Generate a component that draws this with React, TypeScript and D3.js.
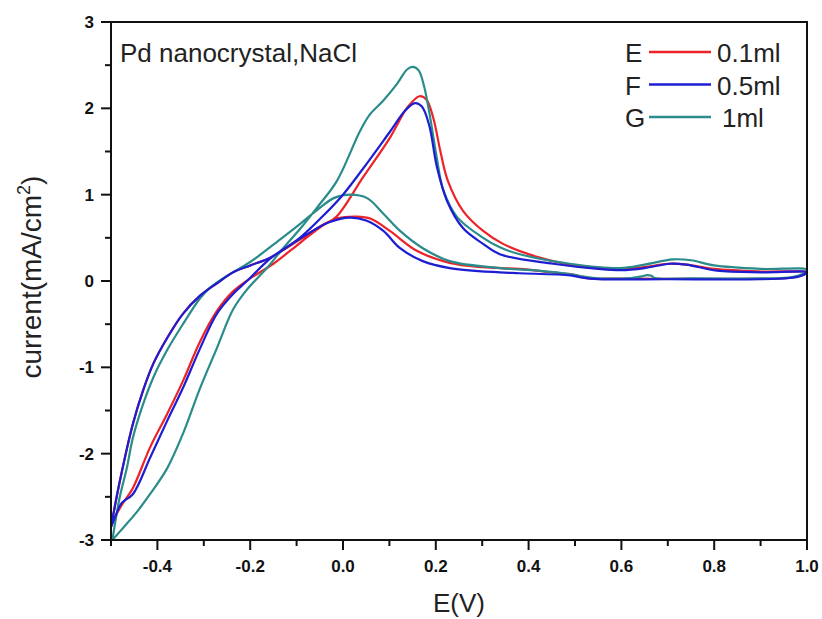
import React from 'react';
import * as d3 from 'd3';

const W = 822;
const H = 619;
// plot frame in pixels
const left = 111, right = 807, top = 22, bottom = 540;

// legend / series meta
const seriesKeys = ['E', 'F', 'G'];
const seriesLabels = ['0.1ml', '0.5ml', '1ml'];
const seriesColors = ['#ec2328', '#1d1dd2', '#2a8c8a'];

// axis ticks
const xMajorTicks = [-0.4, -0.2, 0.0, 0.2, 0.4, 0.6, 0.8, 1.0];
const xMinorTicks = [-0.5, -0.3, -0.1, 0.1, 0.3, 0.5, 0.7, 0.9];
const yMajorTicks = [-3, -2, -1, 0, 1, 2, 3];
const yMinorTicks = [-2.5, -1.5, -0.5, 0.5, 1.5, 2.5];

// E : 0.1ml  (E in V, current in mA/cm2)
const redForward: [number, number][] = [
  [-0.5, -2.85], [-0.488, -2.7], [-0.475, -2.58], [-0.453, -2.4], [-0.416, -1.93],
  [-0.379, -1.54], [-0.345, -1.16], [-0.308, -0.7], [-0.272, -0.35], [-0.237, -0.12],
  [-0.2, 0.03], [-0.15, 0.2], [-0.093, 0.44], [-0.045, 0.64], [-0.015, 0.74],
  [0.043, 1.2], [0.1, 1.65], [0.14, 2.02], [0.165, 2.14], [0.18, 2.1],
  [0.195, 1.88], [0.21, 1.5], [0.226, 1.16], [0.259, 0.81], [0.302, 0.58], [0.345, 0.43],
  [0.418, 0.28], [0.489, 0.19], [0.55, 0.155], [0.6, 0.14], [0.65, 0.16],
  [0.7, 0.2], [0.74, 0.19], [0.8, 0.14], [0.9, 0.11], [1.0, 0.1],
];
const redBackward: [number, number][] = [
  [1.0, 0.1], [0.985, 0.06], [0.96, 0.035], [0.9, 0.025], [0.75, 0.025],
  [0.6, 0.028], [0.53, 0.03], [0.515, 0.05], [0.495, 0.075], [0.45, 0.1],
  [0.38, 0.14], [0.3, 0.16], [0.23, 0.21], [0.159, 0.35], [0.101, 0.58],
  [0.06, 0.72], [0.03, 0.745], [-0.015, 0.72], [-0.05, 0.63], [-0.093, 0.48],
  [-0.157, 0.27], [-0.2, 0.18], [-0.237, 0.1], [-0.27, -0.02], [-0.308, -0.17],
  [-0.345, -0.38], [-0.379, -0.66], [-0.409, -0.96], [-0.431, -1.27],
  [-0.453, -1.66], [-0.481, -2.32], [-0.5, -2.85],
];

// F : 0.5ml
const blueForward: [number, number][] = [
  [-0.5, -2.85], [-0.49, -2.72], [-0.477, -2.57], [-0.453, -2.47], [-0.416, -2.05],
  [-0.379, -1.62], [-0.345, -1.24], [-0.308, -0.78], [-0.272, -0.38], [-0.237, -0.15],
  [-0.207, 0.0], [-0.157, 0.26], [-0.093, 0.5], [-0.04, 0.77], [0.0, 1.0],
  [0.043, 1.3], [0.1, 1.72], [0.135, 1.98], [0.155, 2.06], [0.17, 2.02],
  [0.186, 1.8], [0.202, 1.33], [0.224, 0.93], [0.259, 0.61], [0.302, 0.43],
  [0.338, 0.31], [0.453, 0.2], [0.55, 0.14], [0.6, 0.125], [0.65, 0.15],
  [0.705, 0.2], [0.74, 0.19], [0.806, 0.12], [0.9, 0.1], [1.0, 0.1],
];
const blueBackward: [number, number][] = [
  [1.0, 0.1], [0.985, 0.055], [0.963, 0.035], [0.9, 0.02], [0.7, 0.02],
  [0.55, 0.022], [0.515, 0.04], [0.49, 0.065], [0.38, 0.09], [0.338, 0.1],
  [0.23, 0.15], [0.172, 0.23], [0.123, 0.38], [0.087, 0.58], [0.05, 0.7],
  [0.015, 0.735], [-0.03, 0.68], [-0.093, 0.49], [-0.157, 0.27], [-0.2, 0.18],
  [-0.237, 0.1], [-0.27, -0.02], [-0.308, -0.17], [-0.345, -0.38], [-0.379, -0.66],
  [-0.409, -0.96], [-0.431, -1.27], [-0.453, -1.66], [-0.481, -2.32], [-0.5, -2.85],
];

// G : 1ml
const tealForward: [number, number][] = [
  [-0.497, -3.0], [-0.474, -2.86], [-0.445, -2.68], [-0.416, -2.47], [-0.379, -2.17],
  [-0.345, -1.77], [-0.308, -1.24], [-0.272, -0.78], [-0.237, -0.33], [-0.207, -0.1],
  [-0.164, 0.15], [-0.129, 0.38], [-0.09, 0.62], [-0.056, 0.85], [-0.013, 1.16],
  [0.037, 1.74], [0.058, 1.93], [0.087, 2.09], [0.116, 2.28], [0.138, 2.45],
  [0.15, 2.48], [0.163, 2.44], [0.175, 2.25], [0.188, 1.89], [0.202, 1.43],
  [0.216, 1.06], [0.246, 0.74], [0.302, 0.5], [0.338, 0.39], [0.381, 0.31],
  [0.489, 0.2], [0.597, 0.15], [0.65, 0.19], [0.711, 0.25], [0.75, 0.24],
  [0.8, 0.18], [0.9, 0.14], [1.0, 0.13],
];
const tealBackward: [number, number][] = [
  [1.0, 0.13], [0.985, 0.07], [0.96, 0.04], [0.9, 0.03], [0.75, 0.03],
  [0.672, 0.035], [0.665, 0.06], [0.655, 0.068], [0.645, 0.055], [0.62, 0.035],
  [0.55, 0.032], [0.52, 0.05], [0.489, 0.08], [0.42, 0.12], [0.338, 0.15],
  [0.23, 0.23], [0.172, 0.38], [0.123, 0.58], [0.087, 0.78], [0.052, 0.96],
  [0.015, 1.0], [-0.02, 0.96], [-0.056, 0.82], [-0.093, 0.66], [-0.136, 0.48],
  [-0.2, 0.22], [-0.25, 0.06], [-0.287, -0.08], [-0.308, -0.2], [-0.345, -0.5],
  [-0.379, -0.8], [-0.409, -1.12], [-0.431, -1.43], [-0.453, -1.82], [-0.466, -2.17],
  [-0.481, -2.5], [-0.497, -3.0],
];

const loops = [
  redForward.concat(redBackward.slice(1)),
  blueForward.concat(blueBackward.slice(1)),
  tealForward.concat(tealBackward.slice(1)),
];
const drawOrder = [0, 2, 1];

const font = '"Liberation Sans", Arial, Helvetica, sans-serif';

export default function App() {
  const x = d3.scaleLinear().domain([-0.5, 1.0]).range([left, right]);
  const y = d3.scaleLinear().domain([-3, 3]).range([bottom, top]);

  const line = d3
    .line<[number, number]>()
    .x((d) => x(d[0]))
    .y((d) => y(d[1]))
    .curve(d3.curveCatmullRom.alpha(0.5));

  return (
    <svg
      width={W}
      height={H}
      style={{ position: 'absolute', left: 0, top: 0, background: '#fff' }}
      fontFamily={font}
    >
      <defs>
        <clipPath id="plotClip">
          <rect x={left} y={top} width={right - left} height={bottom - top} />
        </clipPath>
      </defs>

      {/* curves */}
      <g clipPath="url(#plotClip)" fill="none" strokeWidth={2.2} strokeLinejoin="round">
        {drawOrder.map((i) => (
          <path key={i} d={line(loops[i]) || ''} stroke={seriesColors[i]} />
        ))}
      </g>

      {/* frame */}
      <rect x={left} y={top} width={right - left} height={bottom - top} fill="none" stroke="#111" strokeWidth={2} />

      {/* ticks */}
      <g stroke="#111" strokeWidth={2}>
        {xMajorTicks.map((t) => (
          <line key={'xM' + t} x1={x(t)} x2={x(t)} y1={bottom} y2={bottom + 10} />
        ))}
        {xMinorTicks.map((t) => (
          <line key={'xm' + t} x1={x(t)} x2={x(t)} y1={bottom} y2={bottom + 6} />
        ))}
        {yMajorTicks.map((t) => (
          <line key={'yM' + t} x1={left - 10} x2={left} y1={y(t)} y2={y(t)} />
        ))}
        {yMinorTicks.map((t) => (
          <line key={'ym' + t} x1={left - 6} x2={left} y1={y(t)} y2={y(t)} />
        ))}
      </g>
      <g fontSize={17} fontWeight="bold" fill="#111">
        {xMajorTicks.map((t) => (
          <text key={'xl' + t} x={x(t)} y={bottom + 32} textAnchor="middle">
            {d3.format('.1f')(t).replace('−', '-')}
          </text>
        ))}
        {yMajorTicks.map((t) => (
          <text key={'yl' + t} x={left - 17} y={y(t) + 6} textAnchor="end">
            {String(t)}
          </text>
        ))}
      </g>

      {/* axis titles */}
      <text x={(left + right) / 2} y={612} textAnchor="middle" fontSize={26} fill="#222">
        E(V)
      </text>
      <text
        transform={`translate(41,${(top + bottom) / 2 - 4}) rotate(-90)`}
        textAnchor="middle"
        fontSize={28}
        fill="#222"
      >
        current(mA/cm<tspan dy={-11} fontSize={18}>2</tspan>
        <tspan dy={11}>)</tspan>
      </text>

      {/* annotation */}
      <text x={120} y={62} fontSize={26} fill="#222">
        Pd nanocrystal,NaCl
      </text>

      {/* legend */}
      <g fontSize={26} fill="#222">
        {seriesKeys.map((k, i) => {
          const ly = 52 + i * 32.5;
          return (
            <g key={k}>
              <text x={625} y={ly + 10}>{k}</text>
              <line x1={649} x2={711} y1={ly} y2={ly} stroke={seriesColors[i]} strokeWidth={2.5} />
              <text x={i === 2 ? 722 : 717} y={ly + 10}>{seriesLabels[i]}</text>
            </g>
          );
        })}
      </g>
    </svg>
  );
}
